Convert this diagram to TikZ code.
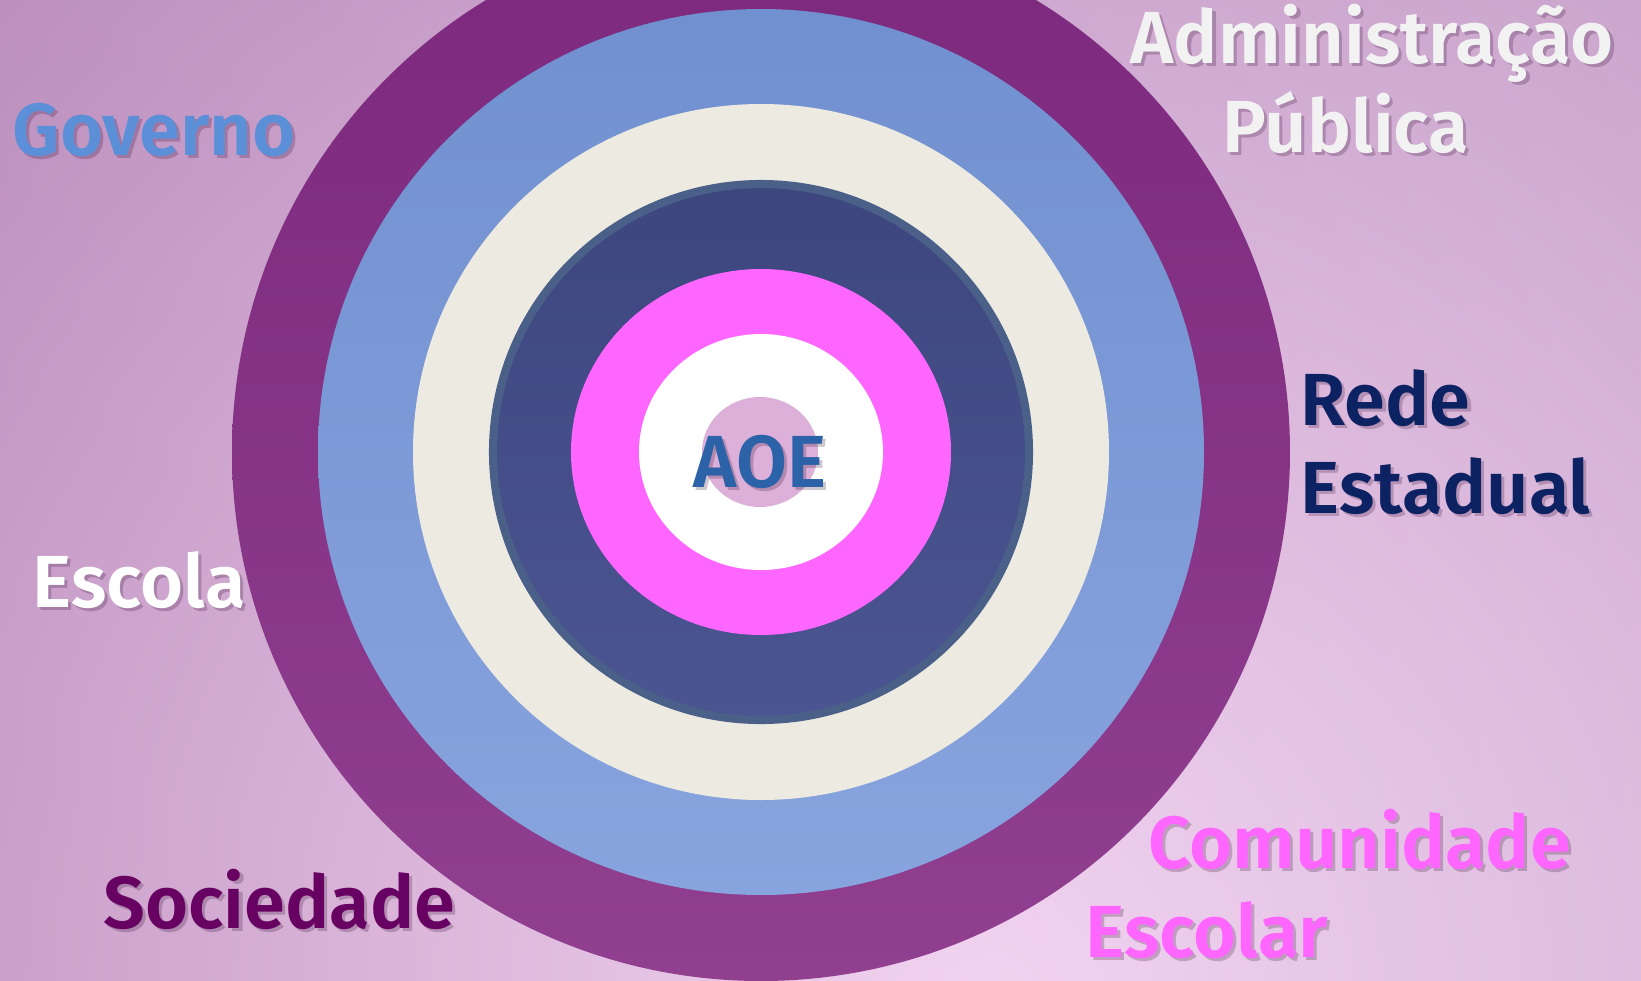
\documentclass[tikz,border=0pt]{standalone}
\usepackage{fontspec}
\setmainfont{Fira Sans}
\newfontfamily\lblfont{Fira Sans SemiBold}
\usepackage{tikz}

\definecolor{bgin}{HTML}{F8D8F5}
\definecolor{bgout}{HTML}{B283B4}
\definecolor{ringtop}{HTML}{7C297E}
\definecolor{ringbot}{HTML}{913F8F}
\definecolor{bluetop}{HTML}{7190CF}
\definecolor{bluebot}{HTML}{88A4DF}
\definecolor{cream}{HTML}{EDEBE1}
\definecolor{navytop}{HTML}{3D467E}
\definecolor{navybot}{HTML}{4B5591}
\definecolor{navyrim}{HTML}{4B6088}
\definecolor{hotpink}{HTML}{FF66FF}
\definecolor{lilac}{HTML}{DCB0D8}
\definecolor{govblue}{HTML}{5B8FD8}
\definecolor{admwhite}{HTML}{F2F2F2}
\definecolor{redenavy}{HTML}{0D2262}
\definecolor{socpurple}{HTML}{680262}
\definecolor{aoeblue}{HTML}{2C62A7}

\tikzset{
  lbl/.style={inner sep=0pt, font=\fontsize{21pt}{25pt}\selectfont\lblfont, anchor=base west},
  shade lbl/.style={lbl, text=black!70!violet, opacity=.22, xshift=.9pt, yshift=-.9pt}
}

% label with a soft drop shadow: name, position, colour, text
\newcommand{\shlabel}[4]{%
  \node[shade lbl] at (#2) {#4};
  \node[lbl, text=#3] (#1) at (#2) {#4};}

\begin{document}
\begin{tikzpicture}[x=0.01cm, y=-0.01cm]
  \useasboundingbox (0,0) rectangle (1641,981);
  \clip (0,0) rectangle (1641,981);
  \shade[left color=bgout, right color=bgout!75!blue!20!white] (0,0) rectangle (1641,981);
  \shade[inner color=bgin, outer color=bgout, opacity=.85] (980,1010) circle (1700);

  \coordinate (c) at (761,452);
  % rings, outside in
  \path[top color=ringtop, bottom color=ringbot] (c) circle (529);
  \path[top color=bluetop, bottom color=bluebot] (c) circle (443);
  \fill[cream] (c) circle (348);
  \path[top color=navytop, bottom color=navybot, draw=navyrim, line width=2.3pt] (c) circle (268);
  \fill[hotpink] (c) circle [x radius=190, y radius=183];
  \fill[white] (c) circle [x radius=122, y radius=118];
  \fill[lilac] (760,452) circle [x radius=58, y radius=55];

  \node[shade lbl, anchor=base] at (760,487) {AOE};
  \node[lbl, anchor=base, text=aoeblue] (aoe) at (760,487) {AOE};

  \shlabel{governo}{12,155}{govblue}{Governo}
  \shlabel{adm}{1130,63}{admwhite}{Administração}
  \shlabel{pub}{1222,152}{admwhite}{Pública}
  \shlabel{rede}{1300,425}{redenavy}{Rede}
  \shlabel{estadual}{1300,513}{redenavy}{Estadual}
  \shlabel{escola}{32,607}{white}{Escola}
  \shlabel{sociedade}{103,928}{socpurple}{Sociedade}
  \shlabel{comunidade}{1148,868}{hotpink}{Comunidade}
  \shlabel{escolar}{1085,957}{hotpink}{Escolar}
\end{tikzpicture}
\end{document}
